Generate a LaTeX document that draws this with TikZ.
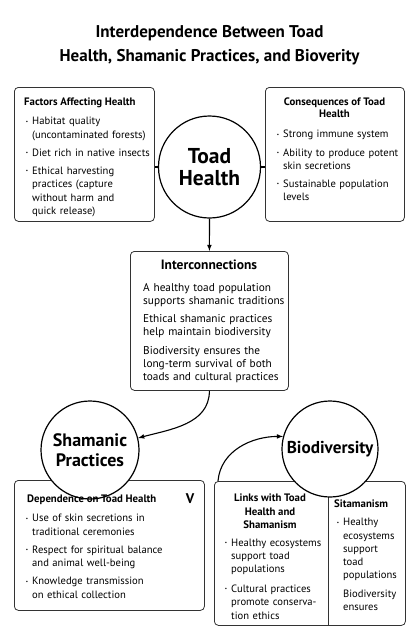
\documentclass[tikz,border=0pt]{standalone}
\usepackage{fontspec}
\setmainfont{PT Sans}
\usetikzlibrary{arrows}

\newcommand{\bul}[1]{\par\noindent\strut\llap{\raisebox{1.7pt}{\fontsize{5}{5}\selectfont\textbullet}\hspace{4pt}}#1}
\newcommand{\pln}[1]{\par\noindent\strut#1}

\begin{document}
\begin{tikzpicture}[x=1pt,y=-1pt,
    card/.style={draw=black!80,rounded corners=4pt,line width=0.8pt,anchor=north west,inner sep=0pt},
    hub/.style={circle,draw,fill=white,line width=1.2pt,inner sep=0pt,align=center},
    head/.style={font=\bfseries\fontsize{10.8}{12.5}\selectfont,inner sep=0pt,align=center},
    list/.style={font=\fontsize{10.6}{13.3}\selectfont,inner sep=0pt,anchor=north west,align=left,
      execute at begin node={\setlength{\parskip}{5pt}}},
    link/.style={line width=1.1pt,-latex}]
  \useasboundingbox (0,0) rectangle (419,629);

  \node[font=\bfseries\fontsize{17}{24}\selectfont,align=center] (title) at (209.5,45)
    {Interdependence Between Toad\\Health, Shamanic Practices, and Bioverity};

  % boxes
  \node[card,minimum width=140pt,minimum height=134pt] (factors) at (14,87) {};
  \node[card,minimum width=139pt,minimum height=134pt] (cons) at (265,87) {};
  \node[card,minimum width=158pt,minimum height=139pt] (inter) at (130,251) {};
  \node[card,minimum width=190pt,minimum height=130pt] (dep) at (14,480) {};
  \node[card,minimum width=191pt,minimum height=144pt] (links) at (214,481) {};
  \coordinate (split) at (328,481);
  \draw[draw=black!80,line width=0.8pt] (split) -- (split |- links.south);

  % circles
  \node[hub,minimum size=102pt,font=\bfseries\fontsize{21.5}{22}\selectfont] (toad) at (209.5,167) {Toad\\Health};
  \node[hub,minimum size=98pt,font=\bfseries\fontsize{18}{20}\selectfont] (sham) at (90,450) {Shamanic\\Practices};
  \node[hub,minimum size=96pt,font=\bfseries\fontsize{17.2}{20}\selectfont] (bio) at (330,449) {Biodiversity};

  % texts
  \node[head,anchor=base west] (factorsT) at (24,105) {Factors Affecting Health};
  \node[list,text width=150pt] (factorsL) at (32,106.2) {%
    \bul{Habitat quality\\(uncontaminated forests)}
    \bul{Diet rich in native insects}
    \bul{Ethical harvesting\\practices (capture\\without harm and\\quick release)}};

  \node[head,anchor=north,font=\bfseries\fontsize{10.8}{12}\selectfont] (consT) at (334.5,98) {Consequences of Toad\\Health};
  \node[list,text width=150pt] (consL) at (283,119.2) {%
    \bul{Strong immune system}
    \bul{Ability to produce potent\\skin secretions}
    \bul{Sustainable population\\levels}};

  \node[head,anchor=base,font=\bfseries\fontsize{13.5}{14}\selectfont] (interT) at (209,269) {Interconnections};
  \node[list,text width=170pt,font=\fontsize{11.3}{13.1}\selectfont,
    execute at begin node={\setlength{\parskip}{5.5pt}}] (interL) at (143,272.3) {%
    \pln{A healthy toad population\\supports shamanic traditions}
    \pln{Ethical shamanic practices\\help maintain biodiversity}
    \pln{Biodiversity ensures the\\long-term survival of both\\toads and cultural practices}};

  \node[head,anchor=base west] (depT) at (27,502) {Dependence on Toad Health};
  \node[head,anchor=base,font=\bfseries\fontsize{14}{14}\selectfont] (depV) at (190,503) {V};
  \node[list,text width=180pt] (depL) at (32,503.2) {%
    \bul{Use of skin secretions in\\traditional ceremonies}
    \bul{Respect for spiritual balance\\and animal well-being}
    \bul{Knowledge transmission\\on ethical collection}};

  \node[head,anchor=north,font=\bfseries\fontsize{10.8}{13.4}\selectfont] (linksT) at (270,494) {Links with Toad\\Health and\\Shamanism};
  \node[list,text width=110pt,execute at begin node={\setlength{\parskip}{6.4pt}}] (linksL) at (231,526.3) {%
    \bul{Healthy ecosystems\\support toad\\populations}
    \bul{Cultural practices\\promote conserva-\\tion ethics}};

  \node[head,anchor=base west] (sitaT) at (334,507) {Sitamanism};
  \node[list,text width=70pt] (sitaL) at (343,507.2) {%
    \bul{Healthy\\ecosystems\\support\\toad\\populations}
    \pln{Biodiversity\\ensures}};

  % connectors
  \draw[line width=1.1pt] (toad.west) -- (toad.west -| factors.east);
  \draw[line width=1.1pt] (toad.east) -- (toad.east -| cons.west);
  \draw[link] (toad.south) -- (inter.north);
  \draw[link] (inter.south) to[out=-90,in=15] (sham.14);
  \draw[link] (links.north west) ++(4,0) coordinate (lk) (lk) to[out=85,in=180] (bio.165);
\end{tikzpicture}
\end{document}
